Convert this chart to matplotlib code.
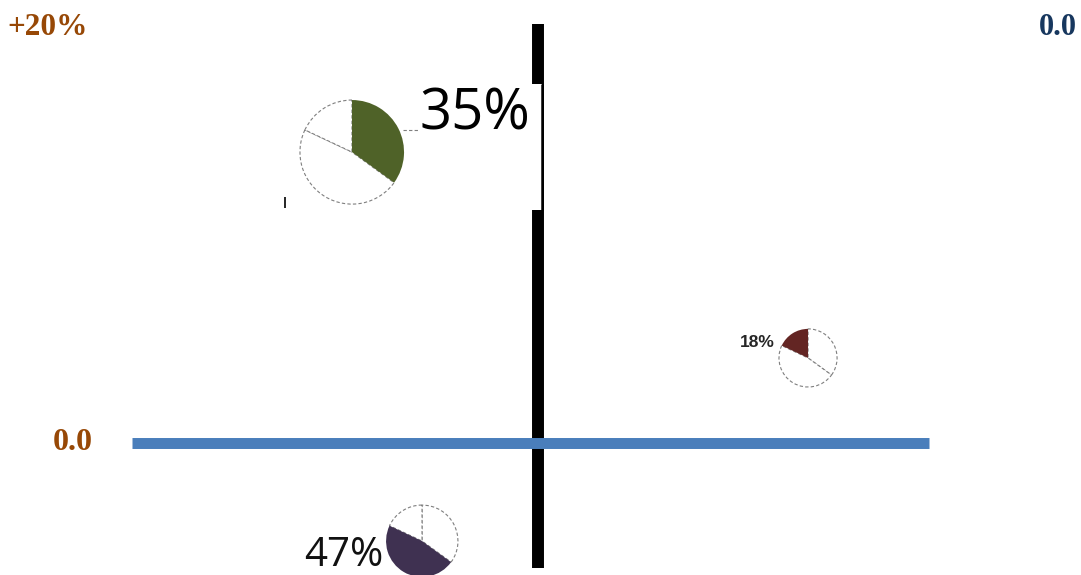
import matplotlib
matplotlib.use('Agg')
import matplotlib.pyplot as plt
from matplotlib.patches import Rectangle

# ---- data ----
shares = [35, 47, 18]
share_labels = ['35%', '47%', '18%']
highlight_colors = ['#4F6228', '#3F3151', '#632523']
bubble_x = [-8.90, -5.55, 12.92]
bubble_y = [13.92, -4.69, 4.07]
bubble_r = [2.49, 1.72, 1.39]
label_x = [-5.65, -11.2, 9.67]
label_y = [14.98, -5.9, 4.59]
label_sizes = [40.5, 29, 12.5]

y_top_label = '+20%'
x_top_label = '0.0'
y_zero_label = '0.0'

# axis extents (data units)
x_axis_range = (-19.43, 18.71)
y_axis_range = (-5.98, 20.05)

# ---- figure ----
W, H, DPI = 1081, 575, 100
S = 20.9  # px per data unit
X0, Y0 = 538, 443
fig = plt.figure(figsize=(W / DPI, H / DPI), dpi=DPI)
ax = fig.add_axes([0, 0, 1, 1])

xlim = (-X0 / S, (W - X0) / S)
ylim = ((Y0 - H) / S, Y0 / S)

# vertical axis line (black)
ax.plot([0, 0], y_axis_range, color='black', lw=8.6, solid_capstyle='butt', zorder=2)
# horizontal axis line (blue)
ax.plot(x_axis_range, [0.02, 0.02], color='#4A7EBB', lw=7.9, solid_capstyle='butt', zorder=3)

# label box covering the vertical line
ax.add_patch(Rectangle((-12.1, 11.15), 12.3, 6.03, facecolor='white', edgecolor='none', zorder=4))
ax.plot([0.2, 0.2], [11.15, 17.18], color='black', lw=1.8, solid_capstyle='butt', zorder=5)
ax.plot([-12.12, -12.12], [11.24, 11.77], color='black', lw=1.2, solid_capstyle='butt', zorder=5)

# pies
for i in range(len(shares)):
    wedges, _ = ax.pie(shares, startangle=90, counterclock=False,
                       center=(bubble_x[i], bubble_y[i]), radius=bubble_r[i],
                       frame=True, colors=['white'] * len(shares))
    for j, w in enumerate(wedges):
        if j == i:
            w.set_facecolor(highlight_colors[i])
            w.set_edgecolor('none')
            w.set_zorder(7)
        else:
            w.set_facecolor('white')
            w.set_edgecolor('#7F7F7F')
            w.set_linestyle((0, (3, 2)))
            w.set_linewidth(0.8)
            w.set_zorder(6)

# leader line for the first label
ax.plot([-6.45, -5.7], [14.98, 14.98], color='#7F7F7F', lw=0.8, ls=(0, (3, 2)), zorder=6)

# share labels
fonts = [dict(family='Open Sans', weight='normal', color='black'),
         dict(family='Open Sans', weight='normal', color='#111111'),
         dict(family='Liberation Sans', weight='bold', color='#262626')]
for i in range(len(shares)):
    ax.text(label_x[i], label_y[i], share_labels[i], ha='left', va='baseline',
            fontsize=label_sizes[i], zorder=8, **fonts[i])

# corner / axis value labels
ax.text(-25.41, 19.52, y_top_label, ha='left', va='baseline', fontsize=22.5,
        family='Liberation Serif', weight='bold', color='#974806')
ax.text(25.79, 19.52, x_top_label, ha='right', va='baseline', fontsize=22,
        family='Liberation Serif', weight='bold', color='#17375E')
ax.text(-23.2, -0.33, y_zero_label, ha='left', va='baseline', fontsize=23,
        family='Liberation Serif', weight='bold', color='#974806')

ax.set_xlim(*xlim)
ax.set_ylim(*ylim)
ax.set_aspect('auto')
ax.axis('off')

fig.savefig('out.png', dpi=DPI)
